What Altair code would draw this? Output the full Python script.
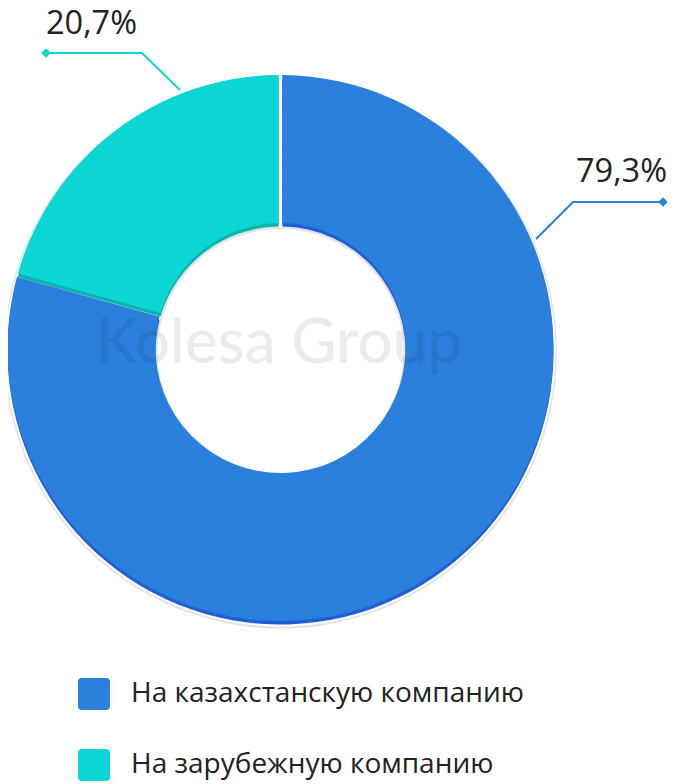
import math
import altair as alt
import pandas as pd

# ---------------- data ----------------
categories = ["На казахстанскую компанию", "На зарубежную компанию"]
values = [79.3, 20.7]
colors = ["#2b80de", "#0cd6d4"]
dark_colors = ["#1f5fd6", "#0ab3ad"]
label_texts = [f"{v:.1f}%".replace(".", ",") for v in values]

# ---------------- layout (pixels) ----------------
W, H = 659, 776
CX = 272.5
CY = 340
R_OUT, R_IN = 273, 125
FONT = "Open Sans"

slices = pd.DataFrame({"category": categories, "value": values, "order": [0, 1]})

# leader geometry: anchor on ring, elbow, end (diamond)
leader_pts = {
    categories[0]: [(528, 231), (565, 194), (655, 194)],
    categories[1]: [(172, 82), (134, 45), (38, 45)],
}
label_pos = {categories[0]: (568, 174), categories[1]: (38, 26)}

lines_rows, dia_rows, lab_rows = [], [], []
for cat, txt in zip(categories, label_texts):
    for i, (x, y) in enumerate(leader_pts[cat]):
        lines_rows.append({"category": cat, "step": i, "x": x, "y": y})
    ex, ey = leader_pts[cat][-1]
    dia_rows.append({"category": cat, "x": ex, "y": ey})
    lx, ly = label_pos[cat]
    lab_rows.append({"category": cat, "x": lx, "y": ly, "text": txt})
lines_df = pd.DataFrame(lines_rows)
dia_df = pd.DataFrame(dia_rows)
lab_df = pd.DataFrame(lab_rows)

xs = alt.Scale(domain=[0, W], range=[0, W], nice=False, zero=False)
ys = alt.Scale(domain=[0, H], reverse=True, nice=False, zero=False)
X = lambda: alt.X("x:Q", scale=xs, axis=None)
Y = lambda: alt.Y("y:Q", scale=ys, axis=None)


def cond(vals):
    return alt.condition(alt.datum.category == categories[0], alt.value(vals[0]), alt.value(vals[1]))


dummy = pd.DataFrame({"a": [1]})

gray = alt.Chart(dummy).mark_arc(
    theta=0, theta2=math.tau, outerRadius=R_OUT + 3.5, innerRadius=R_IN - 2, color="#e4e4e4"
).encode(x=alt.value(CX), y=alt.value(CY + 4))

white = alt.Chart(dummy).mark_arc(
    theta=0, theta2=math.tau, outerRadius=R_OUT + 2, innerRadius=R_IN, color="#ffffff"
).encode(x=alt.value(CX), y=alt.value(CY + 3.5))

dark = alt.Chart(slices).mark_arc(
    outerRadius=R_OUT, innerRadius=R_IN, padAngle=0.012
).encode(
    theta=alt.Theta("value:Q", stack=True),
    order=alt.Order("order:Q"),
    color=cond(dark_colors),
    x=alt.value(CX), y=alt.value(CY + 3.5),
)

rounded = ("M-0.75,-1 L0.75,-1 Q1,-1 1,-0.75 L1,0.75 Q1,1 0.75,1 L-0.75,1 "
           "Q-1,1 -1,0.75 L-1,-0.75 Q-1,-1 -0.75,-1 Z")

light = alt.Chart(slices).mark_arc(
    outerRadius=R_OUT, innerRadius=R_IN, padAngle=0.012
).encode(
    theta=alt.Theta("value:Q", stack=True),
    order=alt.Order("order:Q"),
    color=alt.Color(
        "category:N",
        scale=alt.Scale(domain=categories, range=colors),
        legend=alt.Legend(
            title=None, orient="none", legendX=70, legendY=670,
            symbolType=rounded, symbolSize=1024, symbolStrokeWidth=0, symbolOpacity=1,
            labelFont=FONT, labelFontSize=28, labelColor="#222222", labelOffset=21,
            labelLimit=0, rowPadding=39, padding=0,
        ),
    ),
    x=alt.value(CX), y=alt.value(CY),
)

watermark = alt.Chart(dummy).mark_text(
    text="Kolesa Group", font="Lato", fontSize=62, fontWeight=500,
    color="#000000", opacity=0.075, align="center", baseline="alphabetic",
).encode(x=alt.value(271), y=alt.value(355))

leaders = alt.Chart(lines_df).mark_line(strokeWidth=2).encode(
    x=X(), y=Y(), detail="category:N", order="step:Q", color=cond(colors)
)

diamonds = alt.Chart(dia_df).mark_point(shape="diamond", filled=True, size=95, opacity=1).encode(
    x=X(), y=Y(), color=cond(colors)
)

labels = alt.Chart(lab_df).mark_text(
    font=FONT, fontSize=32.5, color="#222222", align="left", baseline="alphabetic"
).encode(x=X(), y=Y(), text="text:N")

chart = alt.layer(gray, white, dark, light, watermark, leaders, diamonds, labels).properties(
    width=W, height=H, autosize=alt.AutoSizeParams(type="none"), padding=0
).configure_view(stroke=None)

chart.save("out.html", embed_options={"renderer": "svg", "actions": False})
